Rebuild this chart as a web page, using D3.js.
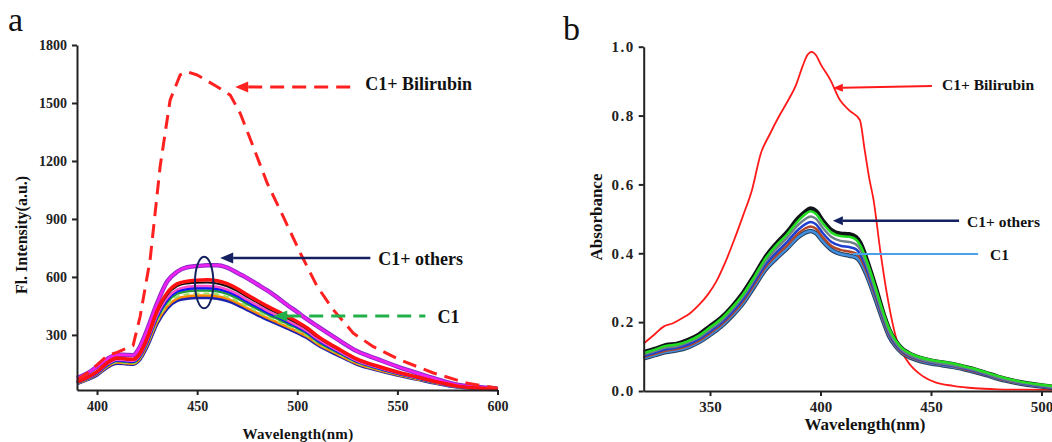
<!DOCTYPE html>
<html>
<head>
<meta charset="utf-8">
<script src="https://cdn.jsdelivr.net/npm/d3@7"></script>
<style>
body { margin: 0; background: #fff; }
svg text { font-family: "Liberation Serif", "Times New Roman", serif; }
.axis path, .axis line { stroke: #222; stroke-width: 2; }
.axis text { font-weight: bold; fill: #222; }
</style>
</head>
<body>
<svg id="chart" width="1052" height="442"></svg>
<script>
// ---- panel a data : fluorescence (wavelength nm -> intensity a.u.)
const wlA = [390,395,400,405,410,415,418,421,425,430,435,440,445,450,455,460,465,470,475,480,485,490,495,500,505,510,520,530,540,550,560,570,580,590,600];
const flMagenta = [76,100,136,175,198,196,195,230,326,464,576,627,650,656,660,660,648,622,594,562,530,494,455,418,380,345,278,215,175,136,102,70,42,30,22];
const flRed    = [57,80,110,155,180,176,174,198,283,425,517,564,578,583,585,580,565,540,508,478,449,423,396,368,336,295,232,175,139,108,82,56,35,25,20];
const flBlack  = [55,78,107,152,177,173,171,194,277,416,506,552,566,570,571,566,552,528,497,468,439,414,387,360,329,289,228,171,136,106,80,55,34,25,20];
const flPink   = [54,76,104,148,172,168,166,188,269,403,491,535,549,553,553,549,535,512,482,454,426,401,375,349,319,280,221,166,132,103,78,54,34,24,20];
const flBlue   = [53,75,102,145,169,165,163,185,264,396,482,526,539,543,543,539,526,503,473,446,418,394,369,343,314,275,217,163,130,101,77,53,33,24,20];
const flGreen  = [52,73,100,142,165,161,159,180,258,386,470,513,526,530,530,526,513,490,461,435,408,384,359,335,306,268,211,159,127,99,75,52,32,24,19];
const flC1     = [50,71,97,137,160,156,154,175,250,374,455,497,510,514,514,510,497,475,447,421,395,372,348,324,296,260,205,154,123,96,73,50,31,23,19];
const flOrange = [49,69,95,135,157,153,151,171,245,367,447,488,500,504,504,500,488,466,439,413,388,365,342,318,291,255,201,151,120,94,71,49,31,22,18];
const flNavy   = [48,68,93,132,154,150,148,168,240,360,438,478,490,494,494,490,478,457,430,405,380,358,335,312,285,250,197,148,118,92,70,48,30,22,18];

const wlBil = [390,395,400,405,410,418,421.5,426.5,431.5,436.5,441.5,445,450,460,466.5,471.5,478,485,493,501.5,510,518,528,538,551.5,568,585,600];
const flBil = [67,101,145,192,210,245,394,688,1170,1515,1645,1662,1645,1584,1541,1447,1274,1085,912,724,550,430,309,239,170,103,50,24];

const ticksAx = [400,450,500,550,600];
const ticksAy = [300,600,900,1200,1500,1800];

// ---- panel b data : absorbance
const wlB = [320,325,330,335,340,345,350,355,360,365,370,375,380,385,390,393,395.5,398,401,405,409,413,416,418,421,425,428,431,434,437,441,445,450,455,460,465,470,475,480,490,500,505];
const abBlack = [.112,.122,.133,.137,.148,.164,.188,.212,.245,.285,.335,.388,.428,.462,.502,.520,.530,.522,.495,.467,.457,.455,.447,.430,.380,.300,.235,.180,.145,.122,.106,.096,.088,.083,.078,.070,.062,.052,.042,.026,.016,.012];
const abGreen = [.110,.120,.131,.135,.145,.161,.185,.209,.242,.281,.331,.384,.423,.456,.495,.513,.522,.514,.488,.460,.450,.448,.440,.423,.376,.298,.236,.182,.147,.124,.108,.098,.090,.085,.080,.072,.064,.054,.044,.028,.018,.014];
const abGray  = [.106,.116,.126,.130,.141,.156,.179,.203,.236,.275,.324,.375,.413,.446,.483,.499,.507,.500,.474,.447,.436,.433,.426,.411,.364,.288,.226,.173,.140,.118,.102,.093,.085,.080,.075,.068,.060,.050,.040,.025,.015,.011];
const abBlue  = [.102,.111,.121,.126,.135,.151,.173,.197,.229,.267,.316,.366,.402,.434,.469,.484,.491,.484,.459,.433,.422,.418,.412,.397,.353,.279,.220,.168,.136,.115,.100,.091,.083,.078,.073,.066,.058,.048,.038,.024,.014,.010];
const abBrown = [.098,.108,.117,.122,.131,.146,.168,.192,.223,.261,.309,.359,.394,.424,.458,.472,.478,.471,.447,.421,.410,.405,.400,.386,.344,.272,.215,.164,.133,.112,.098,.089,.082,.077,.072,.064,.056,.047,.037,.023,.014,.010];
const abC1    = [.095,.104,.113,.118,.127,.142,.163,.187,.218,.255,.303,.352,.385,.415,.447,.460,.465,.458,.435,.410,.398,.393,.388,.375,.335,.265,.210,.160,.130,.110,.096,.087,.080,.075,.070,.063,.055,.046,.036,.022,.013,.009];

const wlBil2 = [320,325,329,333,337,341,345,349,353,357,361,365,369,373,377,381,385,389,392,394,396,398,400,404.5,408.8,413,417.8,420,422,424,427,430,434.5,439,446.5,452,460,470,480,490,505];
const abBil  = [.138,.165,.187,.196,.210,.226,.250,.280,.320,.375,.440,.510,.584,.690,.745,.795,.840,.890,.945,.975,.985,.975,.950,.903,.845,.815,.787,.700,.620,.555,.410,.284,.148,.090,.042,.025,.015,.008,.005,.004,.003];

const ticksBx = [350,400,450,500];
const ticksBy = [0,0.2,0.4,0.6,0.8,1.0];

const svg = d3.select('#chart');

// draw one spectrum through the scales
function addLine(g, x, y, wl, vals, color, width, dash, curve) {
	const line = d3.line()
		.x((d, i) => x(wl[i]))
		.y(d => y(d))
		.curve(curve || d3.curveMonotoneX);
	g.append('path')
		.datum(vals)
		.attr('d', line)
		.attr('fill', 'none')
		.attr('stroke', color)
		.attr('stroke-width', width)
		.attr('stroke-dasharray', dash || null)
		.attr('stroke-linejoin', 'round');
}

// arrow with tip at (xt,yt) and tail at (xe,ye)
function addArrow(g, xt, yt, xe, ye, color, width, dash, headL, headW) {
	const ang = Math.atan2(ye - yt, xe - xt);
	const bx = xt + headL * Math.cos(ang), by = yt + headL * Math.sin(ang);
	g.append('line')
		.attr('x1', bx).attr('y1', by).attr('x2', xe).attr('y2', ye)
		.attr('stroke', color).attr('stroke-width', width)
		.attr('stroke-dasharray', dash || null);
	if (headL > 0) {
		const px = -Math.sin(ang) * headW / 2, py = Math.cos(ang) * headW / 2;
		g.append('path')
			.attr('d', `M${xt},${yt}L${bx + px},${by + py}L${bx - px},${by - py}Z`)
			.attr('fill', color);
	}
}

function label(g, x, y, txt, size, anchor, weight, rot) {
	const t = g.append('text')
		.attr('x', x).attr('y', y)
		.attr('font-size', size)
		.attr('font-weight', weight || 'bold')
		.attr('text-anchor', anchor || 'start')
		.attr('fill', '#111')
		.text(txt);
	if (rot) t.attr('transform', `rotate(${rot},${x},${y})`);
	return t;
}

// ================= panel a =================
const xA = d3.scaleLinear().domain([390, 600]).range([77, 497.5]);
const yA = d3.scaleLinear().domain([15, 1800]).range([390, 45]);
const gA = svg.append('g');

addLine(gA, xA, yA, wlA, flMagenta, '#8a2cc8', 4.5);
addLine(gA, xA, yA, wlA, flMagenta, '#f020f0', 2.5);
addLine(gA, xA, yA, wlA, flNavy, '#1c22b0', 3.5);
addLine(gA, xA, yA, wlA, flOrange, '#ff8a00', 2.5);
addLine(gA, xA, yA, wlA, flC1, '#9fe060', 2, '6,4');
addLine(gA, xA, yA, wlA, flGreen, '#1f9a3a', 2.5);
addLine(gA, xA, yA, wlA, flBlue, '#1212ff', 3);
addLine(gA, xA, yA, wlA, flPink, '#ff4fc8', 2.5);
addLine(gA, xA, yA, wlA, flBlack, '#111111', 2);
addLine(gA, xA, yA, wlA, flRed, '#ff1010', 3.5);
addLine(gA, xA, yA, wlBil, flBil, '#ff2020', 3, '14,8', d3.curveLinear);

gA.append('g').attr('class', 'axis')
	.attr('transform', 'translate(0,390)')
	.call(d3.axisBottom(xA).tickValues(ticksAx).tickSize(5).tickPadding(6).tickSizeOuter(0))
	.attr('font-size', 14);
gA.append('g').attr('class', 'axis')
	.attr('transform', 'translate(77,0)')
	.call(d3.axisLeft(yA).tickValues(ticksAy).tickFormat(d3.format('d')).tickSize(5).tickPadding(5).tickSizeOuter(0))
	.attr('font-size', 14);

// annotations of panel a
gA.append('ellipse')
	.attr('cx', xA(453.5)).attr('cy', yA(571)).attr('rx', 9.2).attr('ry', 25.8)
	.attr('fill', 'none').attr('stroke', '#142060').attr('stroke-width', 2);
addArrow(gA, xA(469), yA(1583), xA(529), yA(1583), '#ff2020', 3, '14,8', 13, 11);
addArrow(gA, xA(461.5), yA(698), xA(536.5), yA(698), '#142060', 2.5, null, 13, 11);
addArrow(gA, xA(488), yA(398), xA(564), yA(398), '#22b04b', 3, '14,8', 14, 11);
label(gA, xA(534), yA(1567), 'C1+ Bilirubin', 18);
label(gA, xA(540.5), yA(662), 'C1+ others', 18);
label(gA, xA(570), yA(360), 'C1', 18);

label(gA, 8, 31, 'a', 34, 'start', 'normal');
label(gA, 27, 235, 'Fl. Intensity(a.u.)', 16, 'middle', 'bold', -90);
label(gA, 298, 439, 'Wavelength(nm)', 15, 'middle').attr('letter-spacing', 0.3);

// ================= panel b =================
const xB = d3.scaleLinear().domain([320, 505]).range([643.7, 1052.55]);
const yB = d3.scaleLinear().domain([0, 1]).range([391, 46.7]);
const gB = svg.append('g');

addLine(gB, xB, yB, wlBil2, abBil, '#ff1a1a', 1.8);
addLine(gB, xB, yB, wlB, abBlack, '#101418', 4.5);
addLine(gB, xB, yB, wlB, abC1, '#2a3d5a', 4.5);
addLine(gB, xB, yB, wlB, abC1, '#3f8fe0', 2.5);
addLine(gB, xB, yB, wlB, abBrown, '#b0462a', 2.5);
addLine(gB, xB, yB, wlB, abBlue, '#1f3fd0', 2.5);
addLine(gB, xB, yB, wlB, abGray, '#6f8088', 2.5);
addLine(gB, xB, yB, wlB, abGreen, '#22dd22', 2.5);

gB.append('g').attr('class', 'axis')
	.attr('transform', 'translate(0,391)')
	.call(d3.axisBottom(xB).tickValues(ticksBx).tickSize(5).tickPadding(5).tickSizeOuter(0))
	.attr('font-size', 15);
gB.append('g').attr('class', 'axis')
	.attr('transform', 'translate(643.7,0)')
	.call(d3.axisLeft(yB).tickValues(ticksBy).tickFormat(d3.format('.1f')).tickSize(5).tickPadding(4).tickSizeOuter(0))
	.attr('font-size', 15)
	.selectAll('text').attr('letter-spacing', 1.5);

// annotations of panel b
addArrow(gB, xB(405.6), yB(0.880), xB(450.4), yB(0.886), '#ff1a1a', 2, null, 10, 8);
addArrow(gB, xB(405.6), yB(0.4946), xB(462.7), yB(0.4946), '#142060', 2.5, null, 10, 9);
addArrow(gB, xB(414.7), yB(0.398), xB(471.3), yB(0.398), '#4aa0e8', 2, null, 0, 0);
label(gB, xB(455), yB(0.874), 'C1+ Bilirubin', 15.5);
label(gB, xB(466.3), yB(0.477), 'C1+ others', 15.5);
label(gB, xB(476.7), yB(0.380), 'C1', 15.5);

label(gB, 563, 40, 'b', 34, 'start', 'normal');
label(gB, 602, 217, 'Absorbance', 17, 'middle', 'bold', -90);
label(gB, 865, 430, 'Wavelength(nm)', 17, 'middle');
</script>
</body>
</html>
